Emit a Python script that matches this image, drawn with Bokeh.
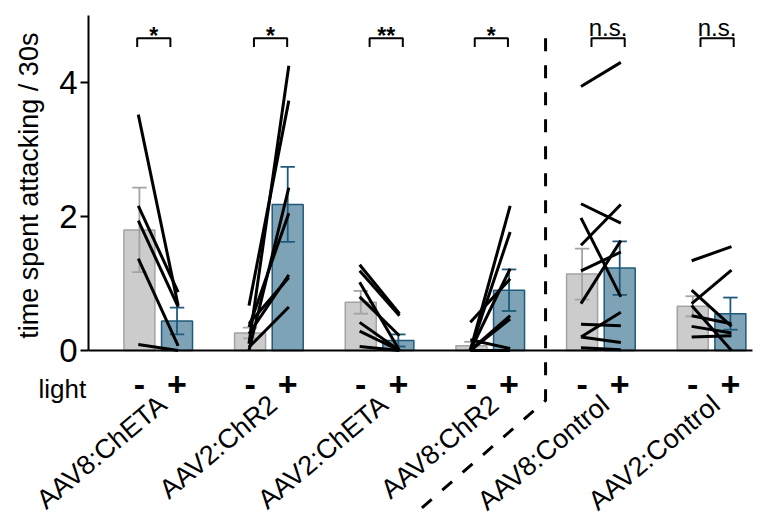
import math
from bokeh.plotting import figure
from bokeh.models import FixedTicker, Range1d
from bokeh.embed import file_html
from bokeh.resources import INLINE
from bokeh.core.properties import value

FONT = "Liberation Sans"

# ---------------- data ----------------
groups = ["AAV8:ChETA", "AAV2:ChR2", "AAV2:ChETA", "AAV8:ChR2", "AAV8:Control", "AAV2:Control"]
light_off_mean = [1.80, 0.26, 0.72, 0.07, 1.14, 0.66]
light_off_sem = [0.63, 0.08, 0.17, 0.06, 0.38, 0.15]
light_on_mean = [0.44, 2.18, 0.15, 0.90, 1.23, 0.55]
light_on_sem = [0.20, 0.56, 0.09, 0.31, 0.40, 0.24]
significance = ["*", "*", "**", "*", "n.s.", "n.s."]
light_labels = ["-", "+"]
y_ticks = [0, 2, 4]
y_title = "time spent attacking / 30s"
light_title = "light"

# per-animal paired values (light off -> light on)
aav8_cheta_off = [3.52, 2.16, 1.94, 1.37, 0.09]
aav8_cheta_on = [0.67, 0.87, 0.65, 0.07, 0.00]
aav2_chr2_off = [0.10, 0.67, 0.00, 0.35, 0.25, 0.40, 0.05]
aav2_chr2_on = [4.25, 3.73, 2.43, 2.05, 1.13, 1.09, 0.65]
aav2_cheta_off = [1.28, 1.19, 1.02, 0.80, 0.42, 0.29, 0.06]
aav2_cheta_on = [0.55, 0.52, 0.00, 0.22, 0.00, 0.00, 0.00]
aav8_chr2_off = [0.42, 0.16, 0.00, 0.00, 0.00, 0.00, 0.00, 0.00]
aav8_chr2_on = [1.07, 0.03, 2.16, 1.77, 1.22, 0.52, 0.47, 0.00]
aav8_ctrl_off = [3.94, 2.19, 1.57, 1.98, 1.19, 0.70, 0.39, 0.20, 0.20, 0.04]
aav8_ctrl_on = [4.30, 1.90, 2.18, 0.80, 1.47, 1.64, 0.37, 0.57, 0.12, 0.01]
aav2_ctrl_off = [1.34, 0.70, 0.90, 0.67, 0.36, 0.20, 0.52]
aav2_ctrl_on = [1.55, 1.20, 0.36, 0.00, 0.26, 0.22, 0.40]

paired_off = [aav8_cheta_off, aav2_chr2_off, aav2_cheta_off, aav8_chr2_off, aav8_ctrl_off, aav2_ctrl_off]
paired_on = [aav8_cheta_on, aav2_chr2_on, aav2_cheta_on, aav8_chr2_on, aav8_ctrl_on, aav2_ctrl_on]

# ---------------- styling / layout ----------------
GRAY_FILL = "#cccccc"
GRAY_LINE = "#a3a3a3"
BLUE_FILL = "#7fa3b6"
BLUE_LINE = "#1f5a7a"
OFF = 0.17
BAR_W = 0.28
CAP = 0.065
LINE_HALF = 0.18
BRACKET_SHIFT = [-0.04, 0.015, 0.06, 0.01, 0.065, 0.05]
BRACKET_HALF = 0.15

W, H = 768, 516
PX_X = 110.67      # pixels per group
PX_Y = 67.0        # pixels per unit of y
X_AXIS_LEFT = -0.63
X_AXIS_RIGHT = 5.37
Y_AXIS_TOP = 5.0
x_start = X_AXIS_LEFT - 88 / PX_X
y_end = 350 / PX_Y
p = figure(width=W, height=H, output_backend="svg", toolbar_location=None,
           x_range=Range1d(x_start, x_start + W / PX_X),
           y_range=Range1d(y_end - H / PX_Y, y_end),
           min_border=0, min_border_left=0, min_border_right=0,
           min_border_top=0, min_border_bottom=0)
p.outline_line_color = None
p.xgrid.visible = False
p.ygrid.visible = False
p.background_fill_color = "white"
p.border_fill_color = "white"

ax = p.yaxis[0]
ax.fixed_location = X_AXIS_LEFT
ax.bounds = (0, Y_AXIS_TOP)
ax.ticker = FixedTicker(ticks=y_ticks, minor_ticks=[])
ax.axis_line_width = 2
ax.axis_line_color = "black"
ax.major_tick_line_width = 2
ax.major_tick_line_color = "black"
ax.major_tick_out = 8
ax.major_tick_in = 0
ax.minor_tick_out = 0
ax.minor_tick_in = 0
ax.major_label_text_font = FONT
ax.major_label_text_font_size = "33px"
ax.major_label_text_color = "black"
ax.major_label_standoff = 3

xa = p.xaxis[0]
xa.fixed_location = 0
xa.bounds = (X_AXIS_LEFT, X_AXIS_RIGHT)
xa.ticker = FixedTicker(ticks=[], minor_ticks=[])
xa.axis_line_width = 2
xa.axis_line_color = "black"
xa.major_tick_out = 0
xa.major_tick_in = 0
xa.minor_tick_out = 0
xa.minor_tick_in = 0
xa.major_label_text_font_size = "0px"

gx = list(range(len(groups)))
xs_off = [g - OFF for g in gx]
xs_on = [g + OFF for g in gx]

p.vbar(x=xs_off, top=light_off_mean, bottom=0, width=BAR_W, fill_color=GRAY_FILL,
       line_color=GRAY_LINE, line_width=1.5)
p.vbar(x=xs_on, top=light_on_mean, bottom=0, width=BAR_W, fill_color=BLUE_FILL,
       line_color=BLUE_LINE, line_width=1.5)

def errbars(xs, m, s, color):
    lo = [a - b for a, b in zip(m, s)]
    hi = [a + b for a, b in zip(m, s)]
    p.segment(x0=xs, y0=lo, x1=xs, y1=hi, line_color=color, line_width=1.8)
    p.segment(x0=[x - CAP for x in xs], y0=hi, x1=[x + CAP for x in xs], y1=hi,
              line_color=color, line_width=1.8)
    p.segment(x0=[x - CAP for x in xs], y0=lo, x1=[x + CAP for x in xs], y1=lo,
              line_color=color, line_width=1.8)

errbars(xs_off, light_off_mean, light_off_sem, GRAY_LINE)
errbars(xs_on, light_on_mean, light_on_sem, BLUE_LINE)

# paired animal lines
x0s, y0s, x1s, y1s = [], [], [], []
for g, offs, ons in zip(gx, paired_off, paired_on):
    for a, b in zip(offs, ons):
        x0s.append(g - LINE_HALF)
        x1s.append(g + LINE_HALF)
        y0s.append(a)
        y1s.append(b)
p.segment(x0=x0s, y0=y0s, x1=x1s, y1=y1s, line_color="black", line_width=3)

# significance brackets
BR_TOP = 4.66
BR_BOT = 4.53
bc = [g + s for g, s in zip(gx, BRACKET_SHIFT)]
bxs = [[c - BRACKET_HALF, c - BRACKET_HALF, c + BRACKET_HALF, c + BRACKET_HALF] for c in bc]
bys = [[BR_BOT, BR_TOP, BR_TOP, BR_BOT] for c in bc]
p.multi_line(xs=bxs, ys=bys, line_color="black", line_width=2)

star_x = [c for c, s in zip(bc, significance) if s != "n.s."]
star_t = [s for s in significance if s != "n.s."]
ns_x = [c for c, s in zip(bc, significance) if s == "n.s."]
ns_t = [s for s in significance if s == "n.s."]
p.text(x=star_x, y=[4.70] * len(star_x), text=star_t, text_align="center",
       text_baseline="middle", text_font=value(FONT), text_font_size="23px",
       text_font_style="bold", text_color="black")
p.text(x=ns_x, y=[4.82] * len(ns_x), text=ns_t, text_align="center",
       text_baseline="middle", text_font=value(FONT), text_font_size="24px",
       text_color="black")

# light - / + row
pm_x = xs_off + xs_on
pm_t = [light_labels[0]] * len(gx) + [light_labels[1]] * len(gx)
p.text(x=pm_x, y=[-0.51] * len(pm_x), text=pm_t, text_align="center",
       text_baseline="middle", text_font=value(FONT), text_font_size="34px",
       text_font_style="bold", text_color="black")

p.text(x=[x_start + 38 / PX_X], y=[-0.57], text=[light_title], text_align="left",
       text_baseline="middle", text_font=value(FONT), text_font_size="26px",
       text_color="black")

# y axis title
p.text(x=[x_start + 28 / PX_X], y=[2.46], text=[y_title], angle=math.pi / 2,
       text_align="center", text_baseline="middle", text_font=value(FONT),
       text_font_size="27px", text_color="black")

# rotated group names
p.text(x=[x - 0.13 for x in xs_on], y=[-0.75] * len(gx), text=groups, angle=math.radians(40),
       text_align="right", text_baseline="middle", text_font=value(FONT),
       text_font_size="27px", text_color="black")

# dashed separator between experimental and control groups
sep_x = 3.5
corner_y = -0.746
end_y = y_end - H / PX_Y - 0.2
dy_px = (corner_y - end_y) * PX_Y
dx_data = dy_px * (129.0 / 112.0) / PX_X
p.line(x=[sep_x, sep_x, sep_x - dx_data], y=[BR_TOP, corner_y, end_y],
       line_color="black", line_width=3, line_dash="13 14")

open("out.html", "w").write(file_html(p, INLINE))
